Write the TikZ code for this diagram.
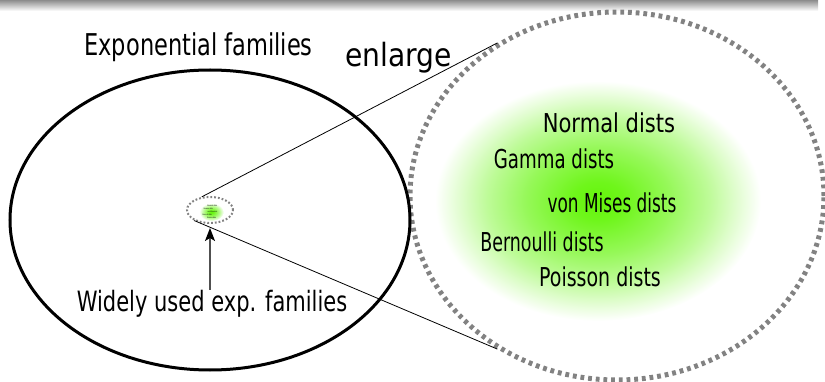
\documentclass[tikz,border=0pt]{standalone}
\usepackage{fontspec}
\setmainfont{DejaVu Sans}
\usetikzlibrary{shapes.geometric,arrows.meta}
\definecolor{grn}{RGB}{100,245,10}
\definecolor{dotgray}{RGB}{130,130,130}
\definecolor{arrgray}{RGB}{80,80,80}
\pgfdeclareradialshading{blob}{\pgfpoint{0bp}{0bp}}{color(0bp)=(grn); color(4bp)=(grn!93!white); color(11bp)=(grn!68!white); color(17bp)=(grn!42!white); color(21.5bp)=(grn!18!white); color(25bp)=(white); color(50bp)=(white)}
\newcommand{\sxt}[2]{\scalebox{#1}[1]{#2}}
\newcommand{\distset}[1]{%
  \shade[shading=blob] (20,1) ellipse [x radius=163, y radius=120];
  \node[dtext] (#1normal) at (31,-67) {\sxt{0.81}{Normal dists}};
  \node[dtext] (#1gamma) at (-24,-31) {\sxt{0.70}{Gamma dists}};
  \node[dtext] (#1mises) at (34,13) {\sxt{0.65}{von Mises dists}};
  \node[dtext] (#1bern) at (-36,52) {\sxt{0.67}{Bernoulli dists}};
  \node[dtext] (#1pois) at (22,87) {\sxt{0.73}{Poisson dists}};
}
\tikzset{
  dtext/.style={anchor=base, inner sep=0pt, font=\fontsize{26}{30}\selectfont},
  ltext/.style={anchor=base, inner sep=0pt},
  link/.style={line width=0.8pt},
  arr/.style={line width=1.3pt, draw=arrgray, -{Stealth[length=13pt,width=10pt,inset=3pt,color=black]}}
}
\begin{document}
\begin{tikzpicture}[x=1pt,y=-1pt]
\useasboundingbox (0,0) rectangle (825,382);
\shade[top color=gray!90, bottom color=white] (0,0) rectangle (818,11);
% enlarged view
\begin{scope}[shift={(578,200)}]
  \distset{b}
\end{scope}
\node[draw=dotgray, ellipse, line width=5pt, dash pattern=on 3.8pt off 3.9pt,
      minimum width=414pt, minimum height=368pt, inner sep=0pt] (zoom) at (617,196) {};
% big family
\node[draw, ellipse, line width=3pt, minimum width=400pt, minimum height=300pt, inner sep=0pt] (expo) at (210,220) {};
% small copy
\begin{scope}[shift={(210,212)}, scale=0.075, transform shape]
  \distset{s}
\end{scope}
\node[draw=dotgray, ellipse, line width=2pt, dash pattern=on 1.8pt off 2pt,
      minimum width=46pt, minimum height=26pt, inner sep=0pt] (small) at (210,210) {};
% texts
\node[ltext, font=\fontsize{30}{34}\selectfont] (expotxt) at (198.5,56) {\sxt{0.75}{Exponential families}};
\node[ltext, font=\fontsize{32}{36}\selectfont] (enl) at (398.5,67) {\sxt{0.88}{enlarge}};
\node[ltext, font=\fontsize{28}{32}\selectfont] (widely) at (212,312) {\sxt{0.75}{Widely used exp. families}};
% connectors
\draw[link] (small.122) -- (zoom.128);
\draw[link] (small.214) -- (zoom.232);
\coordinate (atail) at ([yshift=1pt]widely.north -| small.south);
\draw[arr, shorten >=4pt] (atail) -- (small.south);
\end{tikzpicture}
\end{document}
